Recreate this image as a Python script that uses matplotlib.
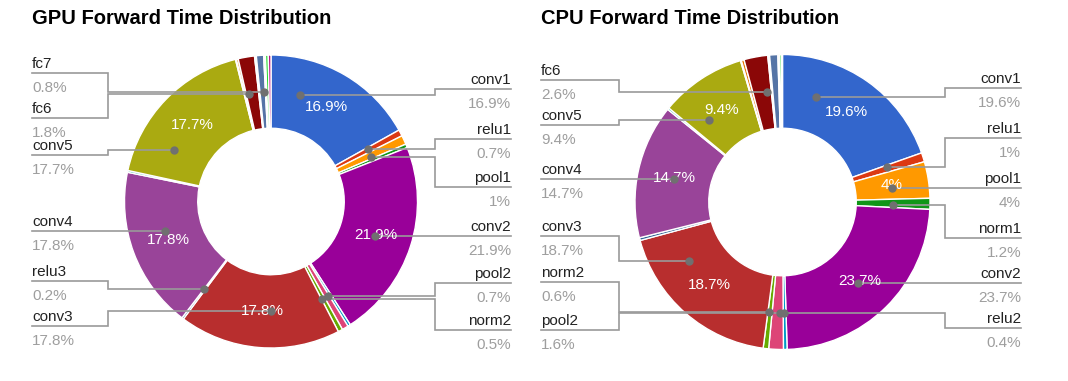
import numpy as np
import matplotlib
matplotlib.use("Agg")
import matplotlib.pyplot as plt

plt.rcParams['font.family'] = ['Liberation Sans', 'DejaVu Sans']

# layer names, clockwise from 12 o'clock
layers = ["conv1", "relu1", "pool1", "norm1", "conv2", "relu2", "pool2", "norm2",
          "conv3", "relu3", "conv4", "relu4", "conv5", "relu5", "pool5", "fc6",
          "relu6", "drop6", "fc7", "relu7", "drop7", "fc8", "prob"]

# percentage of forward time
gpu_pct = [16.9, 0.7, 1.0, 0.4, 21.9, 0.3, 0.7, 0.5, 17.8, 0.2, 17.8, 0.2,
           17.7, 0.1, 0.2, 1.8, 0.1, 0.1, 0.8, 0.1, 0.1, 0.3, 0.3]
cpu_pct = [19.6, 1.0, 4.0, 1.2, 23.7, 0.4, 1.6, 0.6, 18.7, 0.3, 14.7, 0.2,
           9.4, 0.1, 0.3, 2.6, 0.1, 0.1, 0.9, 0.1, 0.1, 0.2, 0.1]

# which slices get an outside label
gpu_left = ["fc7", "fc6", "conv5", "conv4", "relu3", "conv3"]
gpu_right = ["conv1", "relu1", "pool1", "conv2", "pool2", "norm2"]
cpu_left = ["fc6", "conv5", "conv4", "conv3", "norm2", "pool2"]
cpu_right = ["conv1", "relu1", "pool1", "norm1", "conv2", "relu2"]

# google charts default palette
colors = ['#3366cc', '#dc3912', '#ff9900', '#109618', '#990099', '#0099c6',
          '#dd4477', '#66aa00', '#b82e2e', '#316395', '#994499', '#22aa99',
          '#aaaa11', '#6633cc', '#e67300', '#8b0707', '#651067', '#329262',
          '#5574a6', '#3b3eac', '#b77322', '#16d620', '#b91383']

LINE = '#9a9a9a'
W, H = 1068, 381

fig = plt.figure(figsize=(W / 100, H / 100), dpi=100)
ax = fig.add_axes([0, 0, 1, 1])


def donut(ax, vals, center, R, title, tx, left, left_y, lx, lelb,
          right, right_y, rx, relb):
    # y axis is inverted, so counterclock in data = clockwise on screen
    wedges, _ = ax.pie(vals, colors=colors, radius=R, center=center,
                       startangle=-90, counterclock=True, frame=True,
                       wedgeprops=dict(width=R * 0.5, edgecolor='white',
                                       linewidth=1.0))
    cx, cy = center
    rm = 0.75 * R

    for w, v in zip(wedges, vals):
        if v >= 4:
            a = np.deg2rad((w.theta1 + w.theta2) / 2)
            ax.text(cx + rm * np.cos(a), cy + rm * np.sin(a), f"{v:g}%",
                    color='white', fontsize=11, ha='center', va='center',
                    zorder=5)

    for names, ys, x0, elb, ha in [(left, left_y, lx, lelb, 'left'),
                                   (right, right_y, rx, relb, 'right')]:
        for name, ly in zip(names, ys):
            i = layers.index(name)
            w = wedges[i]
            span = w.theta2 - w.theta1
            # anchor point: middle half of the slice, as level as possible
            a = np.deg2rad(np.linspace(w.theta1 + span / 4,
                                       w.theta2 - span / 4, 200))
            px, py = cx + rm * np.cos(a), cy + rm * np.sin(a)
            k = np.argmin(np.abs(py - ly))
            dx, dy = px[k], py[k]
            ax.plot([x0, elb, elb, dx], [ly, ly, dy, dy], color=LINE,
                    lw=1.2, zorder=4, solid_joinstyle='miter')
            ax.plot(dx, dy, 'o', ms=5, color='#707070', zorder=6)
            ax.text(x0, ly - 5, name, color='#222222', fontsize=11,
                    ha=ha, va='baseline')
            ax.text(x0, ly + 19, f"{vals[i]:g}%", color='#9e9e9e',
                    fontsize=11, ha=ha, va='baseline')

    ax.text(tx, 19, title, fontsize=14.5, fontweight='bold', ha='left',
            va='center', color='black')


donut(ax, gpu_pct, (271, 201.5), 146.5, "GPU Forward Time Distribution", 32,
      gpu_left, [73, 118, 155, 231, 281, 326], 32, 108,
      gpu_right, [89, 139, 187, 236, 283, 330], 511, 435)
donut(ax, cpu_pct, (782.5, 202), 147.5, "CPU Forward Time Distribution", 541,
      cpu_left, [80, 125, 179, 236, 282, 330], 541, 619,
      cpu_right, [88, 138, 188, 238, 283, 328], 1021, 945)

ax.set_xlim(0, W)
ax.set_ylim(H, 0)
ax.set_aspect('equal')
ax.axis('off')

fig.savefig("out.png", dpi=100, facecolor='white')
